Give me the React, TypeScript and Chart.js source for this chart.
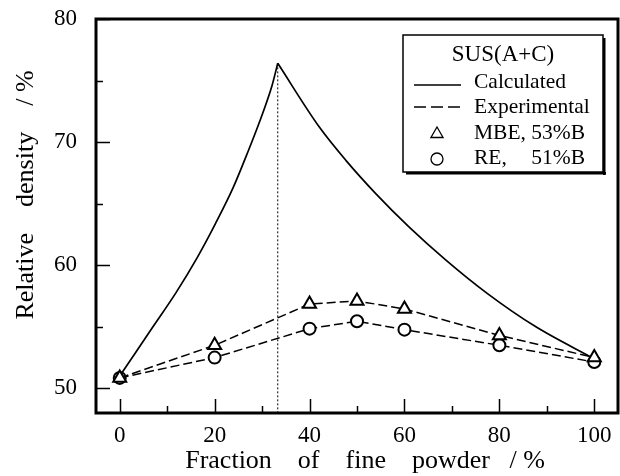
import React, { useEffect, useRef } from "react";
import { Chart, registerables } from "chart.js";

Chart.register(...registerables);

const FONT = "'Liberation Serif', 'Times New Roman', serif";

// Axis ticks
const xTickValues = [0, 20, 40, 60, 80, 100];
const xMinorTicks = [10, 30, 50, 70, 90];
const yTickValues = [50, 60, 70, 80];
const yMinorTicks = [55, 65, 75];

// Calculated curve, split at the peak
const calcLeftX = [0, 7, 11.9, 16.3, 20.2, 23.9, 27, 29.8, 32.1, 33.3];
const calcLeftY = [51.0, 55.0, 57.8, 60.6, 63.4, 66.3, 69.2, 72.0, 74.6, 76.4];
const calcRightX = [33.3, 42.1, 47.7, 54, 61, 68.8, 77.5, 87.7, 100];
const calcRightY = [76.4, 71.2, 68.5, 65.8, 63.1, 60.4, 57.7, 55.0, 52.4];

// Experimental points
const expX = [0, 20, 40, 50, 60, 80, 100];
const mbeY = [50.85, 53.5, 56.85, 57.1, 56.45, 54.3, 52.5];
const reY = [50.85, 52.5, 54.85, 55.45, 54.77, 53.5, 52.14];

// Vertical dotted marker at the peak
const peakX = [33.3, 33.3];
const peakY = [76.4, 48];

const xTitle = "Fraction    of    fine    powder   / %";
const yTitle = "Relative    density    / %";
const legendTitle = "SUS(A+C)";
const legendLabels = ["Calculated", "Experimental", "MBE, 53%B", "RE,", "51%B"];

const toXY = (xs: number[], ys: number[]) => xs.map((x, i) => ({ x, y: ys[i] }));

export default function App() {
  const ref = useRef<HTMLCanvasElement>(null);

  useEffect(() => {
    document.body.style.margin = "0";
    const canvas = ref.current!;

    const decor = {
      id: "decor",
      beforeDraw(chart: any) {
        const ctx = chart.ctx;
        ctx.save();
        ctx.fillStyle = "#fff";
        ctx.fillRect(0, 0, chart.width, chart.height);
        ctx.restore();
      },
      afterDraw(chart: any) {
        const ctx = chart.ctx as CanvasRenderingContext2D;
        const a = chart.chartArea;
        const xs = chart.scales.x;
        const ys = chart.scales.y;
        ctx.save();
        ctx.strokeStyle = "#000";
        ctx.fillStyle = "#000";
        // ticks
        ctx.lineWidth = 1.5;
        ctx.beginPath();
        xTickValues.forEach((v) => {
          const p = Math.round(xs.getPixelForValue(v)) + 0.5;
          ctx.moveTo(p, a.bottom);
          ctx.lineTo(p, a.bottom - 14);
        });
        xMinorTicks.forEach((v) => {
          const p = Math.round(xs.getPixelForValue(v)) + 0.5;
          ctx.moveTo(p, a.bottom);
          ctx.lineTo(p, a.bottom - 7);
        });
        yTickValues.forEach((v) => {
          const p = Math.round(ys.getPixelForValue(v)) + 0.5;
          ctx.moveTo(a.left, p);
          ctx.lineTo(a.left + 14, p);
        });
        yMinorTicks.forEach((v) => {
          const p = Math.round(ys.getPixelForValue(v)) + 0.5;
          ctx.moveTo(a.left, p);
          ctx.lineTo(a.left + 7, p);
        });
        ctx.stroke();
        // frame
        ctx.lineWidth = 3;
        ctx.strokeRect(a.left, a.top, a.right - a.left, a.bottom - a.top);

        // axis titles
        ctx.font = `26px ${FONT}`;
        ctx.textAlign = "center";
        ctx.textBaseline = "alphabetic";
        ctx.fillText(xTitle, 365, 468);
        ctx.save();
        ctx.translate(33, 195);
        ctx.rotate(-Math.PI / 2);
        ctx.fillText(yTitle, 0, 0);
        ctx.restore();

        // legend box
        const bx = 403, by = 35, bw = 200, bh = 137;
        ctx.fillStyle = "#fff";
        ctx.fillRect(bx, by, bw, bh);
        ctx.fillStyle = "#000";
        ctx.lineWidth = 1.5;
        ctx.strokeRect(bx, by, bw, bh);
        ctx.fillRect(bx + bw, by + 3, 2.5, bh);
        ctx.fillRect(bx + 3, by + bh, bw, 2.5);

        ctx.textBaseline = "middle";
        ctx.font = `23px ${FONT}`;
        ctx.textAlign = "center";
        ctx.fillText(legendTitle, bx + bw / 2, 55);

        ctx.font = `21.5px ${FONT}`;
        ctx.textAlign = "left";
        const tx = 474;
        const rows = [82, 107, 133, 158];
        ctx.fillText(legendLabels[0], tx, rows[0]);
        ctx.fillText(legendLabels[1], tx, rows[1]);
        ctx.fillText(legendLabels[2], tx, rows[2]);
        ctx.fillText(legendLabels[3], tx, rows[3]);
        const mw = ctx.measureText(legendLabels[2]).width;
        ctx.textAlign = "right";
        ctx.fillText(legendLabels[4], tx + mw, rows[3]);

        // legend samples
        ctx.lineWidth = 1.5;
        ctx.beginPath();
        ctx.moveTo(414, rows[0] + 3);
        ctx.lineTo(461, rows[0] + 3);
        ctx.stroke();
        ctx.setLineDash([12, 5]);
        ctx.beginPath();
        ctx.moveTo(414, rows[1]);
        ctx.lineTo(461, rows[1]);
        ctx.stroke();
        ctx.setLineDash([]);
        // triangle
        const r = 7, cx = 437, cy = rows[2] + 1;
        ctx.lineWidth = 1.3;
        ctx.beginPath();
        ctx.moveTo(cx, cy - r);
        ctx.lineTo(cx + r * 0.866, cy + r * 0.5);
        ctx.lineTo(cx - r * 0.866, cy + r * 0.5);
        ctx.closePath();
        ctx.stroke();
        ctx.beginPath();
        ctx.arc(437, rows[3] + 1, 6, 0, Math.PI * 2);
        ctx.stroke();
        ctx.restore();
      },
    };

    const chart = new Chart(canvas, {
      type: "scatter",
      data: {
        datasets: [
          {
            label: "MBE, 53%B",
            data: toXY(expX, mbeY),
            showLine: true,
            borderColor: "#000",
            borderWidth: 1.5,
            borderDash: [9, 4],
            pointStyle: "triangle",
            pointRadius: 7.5,
            pointBorderWidth: 2,
            pointBorderColor: "#000",
            pointBackgroundColor: "#fff",
            order: 1,
          },
          {
            label: "RE, 51%B",
            data: toXY(expX, reY),
            showLine: true,
            borderColor: "#000",
            borderWidth: 1.5,
            borderDash: [9, 4],
            pointStyle: "circle",
            pointRadius: 6,
            pointBorderWidth: 2,
            pointBorderColor: "#000",
            pointBackgroundColor: "#fff",
            order: 2,
          },
          {
            label: "Calculated",
            data: toXY(calcLeftX, calcLeftY),
            showLine: true,
            borderColor: "#000",
            borderWidth: 1.7,
            pointRadius: 0,
            cubicInterpolationMode: "monotone",
            order: 3,
          },
          {
            label: "Calculated (right)",
            data: toXY(calcRightX, calcRightY),
            showLine: true,
            borderColor: "#000",
            borderWidth: 1.7,
            pointRadius: 0,
            cubicInterpolationMode: "monotone",
            order: 4,
          },
          {
            label: "peak",
            data: toXY(peakX, peakY),
            showLine: true,
            borderColor: "#000",
            borderWidth: 1,
            borderDash: [2, 2],
            pointRadius: 0,
            order: 5,
          },
        ],
      },
      options: {
        animation: false,
        responsive: false,
        layout: { autoPadding: false, padding: { top: 19, right: 2, left: 0, bottom: 0 } },
        plugins: { legend: { display: false }, tooltip: { enabled: false } },
        scales: {
          x: {
            type: "linear",
            min: -5,
            max: 105,
            grid: { display: false },
            border: { display: false },
            afterBuildTicks: (s: any) => {
              s.ticks = xTickValues.map((v) => ({ value: v }));
            },
            afterFit: (s: any) => {
              s.height = 63;
              s.paddingLeft = 0;
              s.paddingRight = 0;
            },
            ticks: {
              font: { family: FONT, size: 23 },
              color: "#000",
              padding: 1,
              maxRotation: 0,
              autoSkip: false,
            },
          },
          y: {
            type: "linear",
            min: 48,
            max: 80,
            grid: { display: false },
            border: { display: false },
            afterBuildTicks: (s: any) => {
              s.ticks = yTickValues.map((v) => ({ value: v }));
            },
            afterFit: (s: any) => {
              s.width = 96;
              s.paddingTop = 0;
              s.paddingBottom = 0;
            },
            ticks: {
              font: { family: FONT, size: 23 },
              color: "#000",
              padding: 11,
              autoSkip: false,
            },
          },
        },
      },
      plugins: [decor],
    } as any);

    return () => chart.destroy();
  }, []);

  return <canvas ref={ref} width={620} height={476} style={{ display: "block" }} />;
}
